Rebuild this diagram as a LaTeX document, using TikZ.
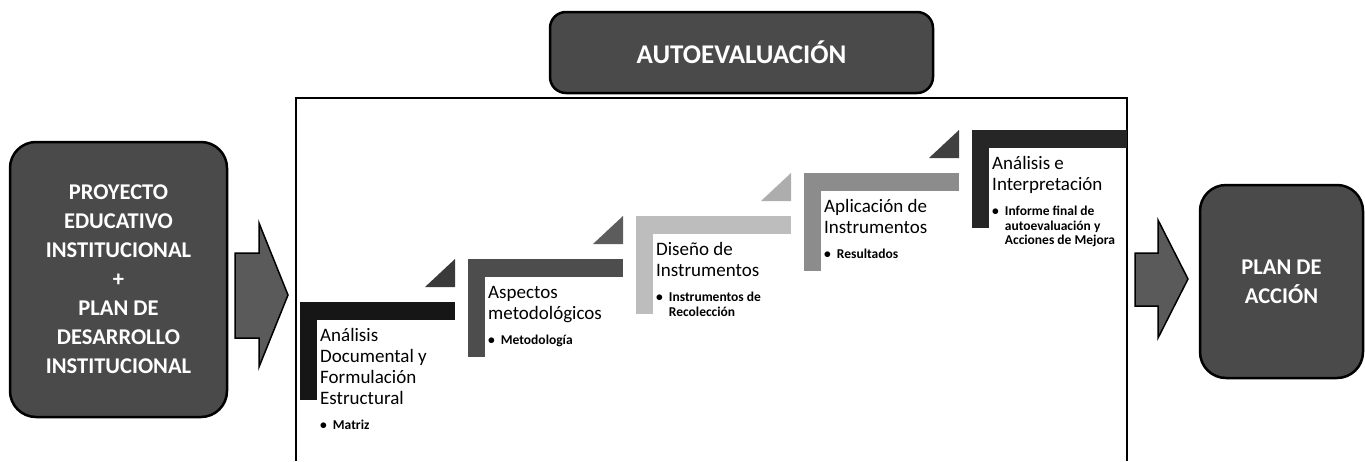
\documentclass[tikz,border=0pt]{standalone}
\usepackage{fontspec}
\setmainfont{Carlito}
\usepackage{tikz}
\usetikzlibrary{positioning}
\definecolor{boxgray}{HTML}{4A4A4A}
\definecolor{arrowgray}{HTML}{5A5A5A}
\definecolor{stepA}{HTML}{161616}
\definecolor{stepB}{HTML}{4D4D4D}
\definecolor{stepC}{HTML}{BDBDBD}
\definecolor{stepD}{HTML}{8C8C8C}
\definecolor{stepE}{HTML}{262626}
\definecolor{triA}{HTML}{3A3A3A}
\definecolor{triB}{HTML}{5C5C5C}
\definecolor{triC}{HTML}{ADADAD}
\definecolor{triD}{HTML}{404040}
\newcommand{\stepitem}[1]{\begin{tabular}{@{}l@{\hspace{6pt}}l@{}}\textbullet & #1\end{tabular}}

\begin{document}
\begin{tikzpicture}[
		x=1pt, y=-1pt,
		node distance=8pt,
		Box/.style = {rectangle, rounded corners=#1, draw=black, line width=2.5pt,
			fill=boxgray, text=white, align=center, inner sep=0pt,
			font=\fontsize{22.5}{29}\selectfont\bfseries},% dark rounded blocks
		Box/.default=26pt,
		Arr/.style = {draw=black, line width=1.5pt, fill=arrowgray, line join=miter},
		T/.style = {anchor=north west, inner sep=0pt, align=left,
			font=\fontsize{19}{21}\selectfont},% step titles
		L/.style = {below=of #1.south west, anchor=north west, inner sep=0pt,
			font=\fontsize{13.5}{14.5}\selectfont\bfseries},% bullet under a title
		]
	\useasboundingbox (0,0) rectangle (1365,461);
	\node[Box=16pt, minimum width=383pt, minimum height=81pt,
		font=\fontsize{27}{32}\selectfont\bfseries] (auto) at (741.5,52.5) {AUTOEVALUACIÓN};
	\node[Box, minimum width=217pt, minimum height=275pt] (pei) at (118.5,279.5)
		{PROYECTO\\EDUCATIVO\\INSTITUCIONAL\\+\\PLAN DE\\DESARROLLO\\INSTITUCIONAL};
	\node[Box, minimum width=163pt, minimum height=193pt] (plan) at (1281.5,281.5) {PLAN DE\\ACCIÓN};
	% block arrows
	\draw[Arr] (235,253) -- (259,253) -- (259,223) -- (288,295) -- (259,367) -- (259,338) -- (235,338) -- cycle;
	\draw[Arr] (1135,253) -- (1158,253) -- (1158,220) -- (1188,279) -- (1158,338) -- (1158,306) -- (1135,306) -- cycle;
	% frame
	\draw[line width=1.6pt] (296,461) -- (296,98) -- (1127,98) -- (1127,461);
	% steps
	\foreach \i/\c in {0/stepA,1/stepB,2/stepC,3/stepD,4/stepE}{
		\fill[\c] ({300+168*\i},{302-43*\i}) rectangle ++(155,18);
		\fill[\c] ({300+168*\i},{302-43*\i}) rectangle ++(17,98);
	}
	\foreach \i/\c in {0/triA,1/triB,2/triC,3/triD}
		\fill[\c] ({455+168*\i},{287-43*\i}) -- ++(-30,0) -- ++(30,-28) -- cycle;
	\node[T] (t1) at (320,327) {\strut Análisis\\Documental y\\Formulación\\Estructural\strut};
	\node[T] (t2) at (488,284) {\strut Aspectos\\metodológicos\strut};
	\node[T] (t3) at (656,241) {\strut Diseño de\\Instrumentos\strut};
	\node[T] (t4) at (824,198) {\strut Aplicación de\\Instrumentos\strut};
	\node[T] (t5) at (992,155) {\strut Análisis e\\Interpretación\strut};
	\node[L=t1] (b1) {\stepitem{Matriz}};
	\node[L=t2] (b2) {\stepitem{Metodología}};
	\node[L=t3] (b3) {\stepitem{Instrumentos de\\ & Recolección}};
	\node[L=t4] (b4) {\stepitem{Resultados}};
	\node[L=t5] (b5) {\stepitem{Informe final de\\ & autoevaluación y\\ & Acciones de Mejora}};
\end{tikzpicture}
\end{document}
